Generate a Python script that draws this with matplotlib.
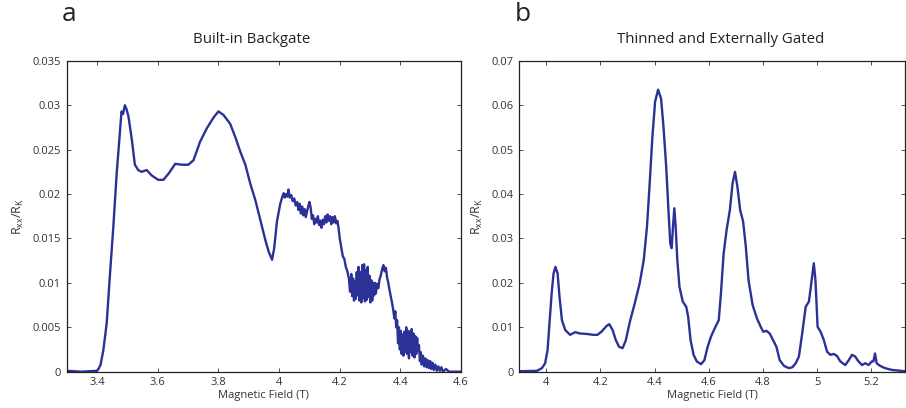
import matplotlib
matplotlib.use("Agg")
import matplotlib.pyplot as plt
from matplotlib.ticker import FuncFormatter

# panel a: built-in backgate
field_a = [3.30, 3.35, 3.40, 3.405, 3.412, 3.421, 3.432, 3.443, 3.454, 3.465, 3.476, 3.481,
           3.486, 3.492, 3.498, 3.504, 3.515, 3.525, 3.536, 3.547, 3.564, 3.580, 3.602,
           3.619, 3.636, 3.658, 3.680, 3.701, 3.718, 3.740, 3.762, 3.784, 3.800, 3.817,
           3.839, 3.856, 3.872, 3.889, 3.905, 3.922, 3.938, 3.955, 3.966, 3.977, 3.984,
           3.993, 4.004, 4.010, 4.015, 4.019, 4.023, 4.027, 4.031, 4.035, 4.040, 4.045,
           4.050, 4.055, 4.060, 4.064, 4.068, 4.072, 4.076, 4.080, 4.084, 4.088, 4.092,
           4.096, 4.100, 4.104, 4.108, 4.112, 4.116, 4.120, 4.124, 4.128, 4.132, 4.136,
           4.140, 4.144, 4.148, 4.152, 4.156, 4.160, 4.164, 4.168, 4.172, 4.176, 4.180,
           4.184, 4.188, 4.192, 4.196, 4.200, 4.205, 4.210, 4.215, 4.220, 4.225, 4.230,
           4.234, 4.238, 4.241, 4.244, 4.247, 4.250, 4.253, 4.256, 4.259, 4.262, 4.265,
           4.268, 4.271, 4.274, 4.277, 4.280, 4.283, 4.286, 4.289, 4.292, 4.295, 4.298,
           4.301, 4.304, 4.307, 4.310, 4.313, 4.316, 4.319, 4.323, 4.327, 4.331, 4.335,
           4.340, 4.344, 4.348, 4.352, 4.356, 4.360, 4.364, 4.368, 4.372, 4.376, 4.380,
           4.383, 4.386, 4.389, 4.392, 4.395, 4.398, 4.401, 4.404, 4.407, 4.410, 4.413,
           4.416, 4.419, 4.422, 4.425, 4.428, 4.431, 4.434, 4.437, 4.440, 4.443, 4.446,
           4.449, 4.452, 4.455, 4.458, 4.461, 4.464, 4.467, 4.470, 4.474, 4.478, 4.482,
           4.486, 4.490, 4.494, 4.498, 4.502, 4.506, 4.510, 4.515, 4.520, 4.525, 4.530,
           4.535, 4.540, 4.550, 4.560, 4.600]
rxx_a = [0.0001, 0.0000, 0.0001, 0.0003, 0.0008, 0.0024, 0.0054, 0.0110, 0.0163, 0.0223,
         0.0272, 0.0293, 0.0290, 0.0300, 0.0295, 0.0287, 0.0261, 0.0233, 0.0227, 0.0225,
         0.0227, 0.0221, 0.0216, 0.0216, 0.0223, 0.0234, 0.0233, 0.0233, 0.0238, 0.0259,
         0.0274, 0.0286, 0.0293, 0.0289, 0.0279, 0.0264, 0.0248, 0.0233, 0.0212, 0.0193,
         0.0171, 0.0148, 0.0135, 0.0126, 0.0139, 0.0169, 0.0189, 0.0196, 0.0201, 0.0196,
         0.0200, 0.0197, 0.0205, 0.0196, 0.0199, 0.0192, 0.0195, 0.0187, 0.0191, 0.0182,
         0.0189, 0.0178, 0.0186, 0.0176, 0.0183, 0.0174, 0.0180, 0.0186, 0.0191, 0.0185,
         0.0172, 0.0176, 0.0166, 0.0172, 0.0168, 0.0175, 0.0165, 0.0170, 0.0162, 0.0171,
         0.0166, 0.0175, 0.0168, 0.0177, 0.0170, 0.0175, 0.0166, 0.0174, 0.0168, 0.0175,
         0.0167, 0.0170, 0.0162, 0.0150, 0.0140, 0.0130, 0.0127, 0.0118, 0.0113, 0.0105,
         0.0090, 0.0110, 0.0085, 0.0105, 0.0080, 0.0102, 0.0082, 0.0112, 0.0086, 0.0118,
         0.0080, 0.0112, 0.0078, 0.0120, 0.0083, 0.0121, 0.0079, 0.0114, 0.0081, 0.0118,
         0.0084, 0.0108, 0.0078, 0.0103, 0.0080, 0.0100, 0.0086, 0.0100, 0.0088, 0.0099,
         0.0094, 0.0104, 0.0108, 0.0116, 0.0120, 0.0113, 0.0117, 0.0106, 0.0100, 0.0092,
         0.0085, 0.0078, 0.0070, 0.0060, 0.0068, 0.0050, 0.0058, 0.0032, 0.0050, 0.0025,
         0.0046, 0.0020, 0.0042, 0.0018, 0.0045, 0.0022, 0.0050, 0.0020, 0.0046, 0.0015,
         0.0045, 0.0022, 0.0048, 0.0018, 0.0043, 0.0016, 0.0040, 0.0020, 0.0038, 0.0024,
         0.0030, 0.0012, 0.0022, 0.0008, 0.0018, 0.0006, 0.0015, 0.0005, 0.0013, 0.0004,
         0.0012, 0.0003, 0.0010, 0.0002, 0.0008, 0.0001, 0.0006, 0.0001, 0.0005, 0.0000,
         0.0003, 0.0000, 0.0000]

# panel b: thinned and externally gated
field_b = [3.900, 3.966, 3.984, 3.996, 4.005, 4.012, 4.020, 4.027, 4.034, 4.042, 4.049,
           4.058, 4.070, 4.088, 4.107, 4.125, 4.149, 4.174, 4.189, 4.204, 4.223, 4.233,
           4.245, 4.257, 4.269, 4.282, 4.294, 4.309, 4.327, 4.345, 4.360, 4.372, 4.382,
           4.392, 4.402, 4.413, 4.424, 4.433, 4.443, 4.452, 4.458, 4.463, 4.468, 4.473,
           4.478, 4.484, 4.492, 4.504, 4.517, 4.524, 4.533, 4.544, 4.556, 4.572, 4.584,
           4.596, 4.609, 4.624, 4.637, 4.645, 4.655, 4.666, 4.678, 4.688, 4.697, 4.706,
           4.716, 4.727, 4.737, 4.747, 4.762, 4.778, 4.792, 4.801, 4.813, 4.825, 4.836,
           4.850, 4.862, 4.878, 4.896, 4.909, 4.921, 4.933, 4.945, 4.958, 4.970, 4.980,
           4.988, 4.994, 5.002, 5.013, 5.025, 5.037, 5.049, 5.062, 5.074, 5.086, 5.104,
           5.117, 5.129, 5.141, 5.153, 5.166, 5.178, 5.190, 5.202, 5.208, 5.214, 5.220,
           5.233, 5.251, 5.276, 5.325]
rxx_b = [0.0001, 0.0002, 0.0008, 0.0019, 0.0049, 0.0109, 0.0176, 0.0221, 0.0236, 0.0221,
         0.0169, 0.0116, 0.0094, 0.0083, 0.0089, 0.0086, 0.0085, 0.0083, 0.0083, 0.0090,
         0.0103, 0.0107, 0.0094, 0.0071, 0.0056, 0.0053, 0.0071, 0.0113, 0.0154, 0.0199,
         0.0251, 0.0326, 0.0424, 0.0529, 0.0608, 0.0635, 0.0615, 0.0551, 0.0461, 0.0356,
         0.0289, 0.0278, 0.0326, 0.0368, 0.0326, 0.0251, 0.0191, 0.0158, 0.0146, 0.0124,
         0.0071, 0.0038, 0.0023, 0.0017, 0.0026, 0.0056, 0.0080, 0.0100, 0.0116, 0.0176,
         0.0266, 0.0319, 0.0364, 0.0424, 0.0450, 0.0416, 0.0364, 0.0338, 0.0281, 0.0206,
         0.0150, 0.0120, 0.0101, 0.0090, 0.0092, 0.0086, 0.0073, 0.0056, 0.0026, 0.0013,
         0.0008, 0.0010, 0.0019, 0.0034, 0.0086, 0.0146, 0.0158, 0.0206, 0.0244, 0.0206,
         0.0101, 0.0090, 0.0071, 0.0045, 0.0038, 0.0040, 0.0035, 0.0023, 0.0015, 0.0026,
         0.0038, 0.0034, 0.0023, 0.0015, 0.0019, 0.0015, 0.0023, 0.0023, 0.0041, 0.0019,
         0.0013, 0.0008, 0.0004, 0.0001]

xticks_a = [3.4, 3.6, 3.8, 4.0, 4.2, 4.4, 4.6]
yticks_a = [0, 0.005, 0.01, 0.015, 0.02, 0.025, 0.03, 0.035]
xticks_b = [4.0, 4.2, 4.4, 4.6, 4.8, 5.0, 5.2]
yticks_b = [0, 0.01, 0.02, 0.03, 0.04, 0.05, 0.06, 0.07]

plt.rcParams['font.family'] = ['Open Sans', 'DejaVu Sans']
plt.rcParams['mathtext.fontset'] = 'custom'
plt.rcParams['mathtext.rm'] = 'Open Sans'

line_color = '#2b3195'
text_color = '#333333'
fmt = FuncFormatter(lambda v, p: f'{v:g}')

fig = plt.figure(figsize=(9.06, 4.08), dpi=100)
ax_a = fig.add_axes([0.0735, 0.089, 0.4355, 0.762])
ax_b = fig.add_axes([0.573, 0.089, 0.426, 0.762])

panels = [
    (ax_a, field_a, rxx_a, (3.3, 4.6), (0, 0.035), xticks_a, yticks_a,
     'Built-in Backgate', 0.468, 'a'),
    (ax_b, field_b, rxx_b, (3.9, 5.325), (0, 0.07), xticks_b, yticks_b,
     'Thinned and Externally Gated', 0.523, 'b'),
]

for ax, x, y, xl, yl, xt, yt, title, tx, letter in panels:
    ax.plot(x, y, color=line_color, lw=1.7)
    ax.set_xlim(*xl)
    ax.set_ylim(*yl)
    ax.set_xticks(xt)
    ax.set_yticks(yt)
    ax.xaxis.set_major_formatter(fmt)
    ax.yaxis.set_major_formatter(fmt)
    ax.tick_params(direction='in', top=True, right=True, length=3, width=0.6,
                   labelsize=8, colors=text_color, pad=4)
    for s in ax.spines.values():
        s.set_linewidth(0.9)
        s.set_color('#222222')
    ax.set_xlabel('Magnetic Field (T)', fontsize=8, color=text_color, labelpad=1)
    ax.set_ylabel(r'$\mathrm{R_{xx}/R_K}$', fontsize=9, color=text_color, labelpad=5)
    ax.text(tx, 1.057, title, transform=ax.transAxes, fontsize=10.8,
            ha='center', va='baseline', color='#222222')
    ax.text(-0.012, 1.128, letter, transform=ax.transAxes, fontsize=19,
            ha='left', va='baseline', color='#222222')

fig.savefig('out.png', dpi=100)
